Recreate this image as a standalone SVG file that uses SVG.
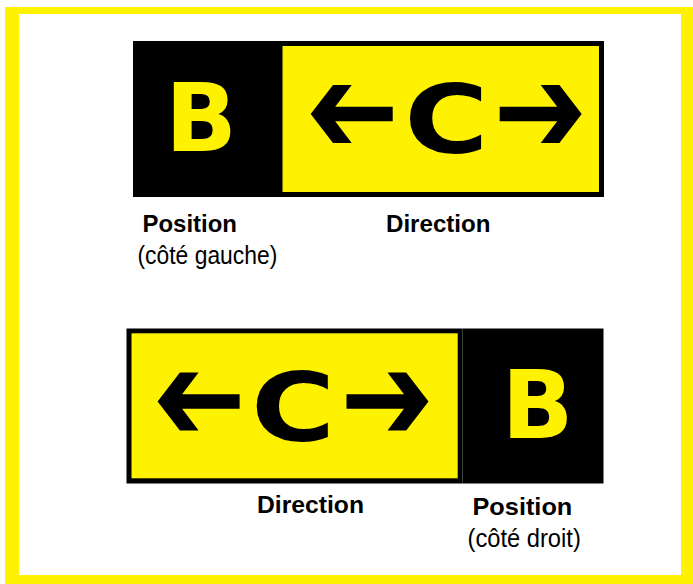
<svg xmlns="http://www.w3.org/2000/svg" width="693" height="584" viewBox="0 0 693 584">
<style>
.yel{fill:#FFF200}
.blk{fill:#000}
.sign{font-family:"DejaVu Sans","Liberation Sans",sans-serif;font-weight:bold;font-size:94px;text-anchor:middle}
.lbl{font-family:"Liberation Sans",Arial,sans-serif;font-weight:bold;font-size:24.3px;fill:#000}
.sub{font-family:"Liberation Sans",Arial,sans-serif;font-size:25.5px;fill:#000}
</style>
<defs>
<path id="arrow" d="M0,0 L22.3,-29 L41,-29 L24.5,-7.2 L82,-7.2 L82,7.2 L24.5,7.2 L41,29 L22.3,29 Z"/>
</defs>
<rect x="5" y="7" width="688" height="577" class="yel"/>
<rect x="19" y="14" width="662" height="561" fill="#fff"/>

<g id="sign-top">
<g id="position-left">
<rect x="133" y="41" width="145" height="156" class="blk"/>
<text class="sign yel" x="201" y="151">B</text>
</g>
<g id="direction-top">
<rect x="278" y="41" width="326" height="156" class="blk"/>
<rect x="282.5" y="46" width="316.5" height="146" class="yel"/>
<use href="#arrow" transform="translate(310.7,114)"/>
<use href="#arrow" transform="translate(581.7,114) scale(-1,1)"/>
<text class="sign blk" transform="translate(446.2,152.8) scale(1.22,1)" x="0" y="0">C</text>
</g>
</g>

<g id="sign-bottom">
<g id="direction-bottom">
<rect x="126.5" y="328.5" width="336" height="155" class="blk"/>
<rect x="131.5" y="333.3" width="326.2" height="145" class="yel"/>
<use href="#arrow" transform="translate(157.6,401.5)"/>
<use href="#arrow" transform="translate(428.5,401.5) scale(-1,1)"/>
<text class="sign blk" transform="translate(293,440.5) scale(1.22,1)" x="0" y="0">C</text>
</g>
<g id="position-right">
<rect x="462.5" y="328.5" width="141" height="155" class="blk"/>
<text class="sign yel" x="537.7" y="438.3">B</text>
</g>
</g>

<g id="labels">
<text class="lbl" x="142.5" y="231.7" textLength="94.5" lengthAdjust="spacingAndGlyphs">Position</text>
<text class="sub" x="137.5" y="263.5" textLength="139.8" lengthAdjust="spacingAndGlyphs">(côté gauche)</text>
<text class="lbl" x="386" y="231.7" textLength="104.5" lengthAdjust="spacingAndGlyphs">Direction</text>
<text class="lbl" x="257" y="513" textLength="107" lengthAdjust="spacingAndGlyphs">Direction</text>
<text class="lbl" x="472.5" y="514.5" textLength="99.8" lengthAdjust="spacingAndGlyphs" style="font-size:24.6px">Position</text>
<text class="sub" x="467.5" y="546.5" textLength="113.3" lengthAdjust="spacingAndGlyphs">(côté droit)</text>
</g>
<g id="connectors"/>
</svg>
